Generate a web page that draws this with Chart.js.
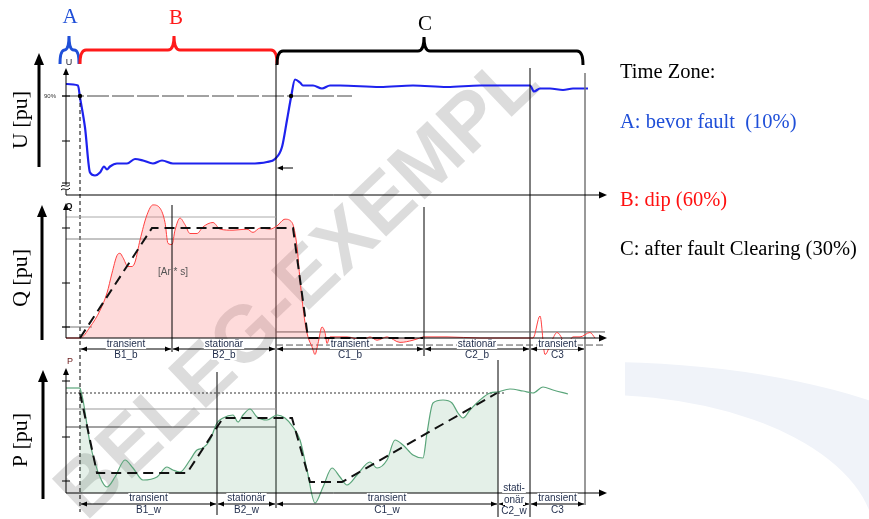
<!DOCTYPE html>
<html>
<head>
<meta charset="utf-8">
<script src="https://cdn.jsdelivr.net/npm/chart.js@4.4.0/dist/chart.umd.min.js"></script>
<style>
html, body { margin: 0; padding: 0; background: #fff; }
#wrap { position: relative; width: 869px; height: 519px; overflow: hidden; }
#wrap canvas, #wrap svg { position: absolute; left: 0; top: 0; }
#wm { position: absolute; left: 296px; top: 285px; transform: translate(-50%, -50%) rotate(-43.6deg);
      font: bold 80px "Liberation Sans", Arial, sans-serif; color: rgba(120,120,120,0.26); white-space: nowrap; }
.zone { position: absolute; left: 620px; font: 20.5px "Liberation Serif", "Times New Roman", serif;
        line-height: 1; white-space: pre; }
</style>
</head>
<body>
<div id="wrap">
  <svg width="869" height="519">
    <defs><clipPath id="cl"><rect x="625" y="0" width="244" height="519"/></clipPath></defs>
    <path clip-path="url(#cl)" fill="#f0f3f9" fill-rule="evenodd"
          d="M180,527 a420,165 0 1,0 840,0 a420,165 0 1,0 -840,0 Z M325,540 a275,145 0 1,0 550,0 a275,145 0 1,0 -550,0 Z"/>
  </svg>
  <div id="wm">BELEG-EXEMPL</div>
  <canvas id="cU" width="869" height="519"></canvas>
  <canvas id="cQ" width="869" height="519"></canvas>
  <canvas id="cP" width="869" height="519"></canvas>
  <div class="zone" style="top:61px;color:#000">Time Zone:</div>
  <div class="zone" style="top:111px;color:#1f4fd8">A: bevor fault  (10%)</div>
  <div class="zone" style="top:189px;color:#ff1010">B: dip (60%)</div>
  <div class="zone" style="top:238px;color:#000">C: after fault Clearing (30%)</div>
</div>
<script>
// Zeitachse in ms nach Fehlereintritt
const T_MIN = -14, T_MAX = 525;
const tFault = 0, tClear = 196, tQb = 92, tQc = 344, tPb = 137, tPc = 418, tC3 = 450, tEnd = 505;

// Spannung U [pu]
const uT = [-14,-2,0,5,10,15,20,24,27,30,37,43,47,55,63,73,82,93,107,137,170,187,195,202,207,211,215,220,223,233,242,250,260,300,333,367,400,450,454,460,470,483,493,508];
const uV = [0.98,0.97,0.89,0.69,0.39,0.37,0.39,0.43,0.41,0.43,0.45,0.45,0.45,0.48,0.47,0.45,0.47,0.45,0.45,0.45,0.45,0.46,0.48,0.56,0.74,0.89,1.01,0.99,0.97,0.97,0.95,0.97,0.97,0.96,0.97,0.96,0.97,0.97,0.93,0.95,0.95,0.94,0.95,0.95];
const uTicks = [0.9, 0.6, 0.32];

// Blindleistung Q [pu]
const qT = [-14,0,10,20,27,32,37,40,43,48,52,55,60,67,73,80,85,88,92,95,100,105,110,117,123,133,140,153,167,173,180,190,197,205,212,217,220,225,228,232,235,238,242,245,247,250,267,283,290,297,307,320,333,343,367,400,433,453,460,465,472,477,487,493,500,510,515];
const qV = [0,0,0.10,0.25,0.41,0.59,0.75,0.77,0.73,0.65,0.65,0.69,0.89,1.12,1.21,1.18,1.05,0.86,0.85,0.98,1.09,1.03,0.95,0.95,1.01,1.05,0.99,0.98,0.99,0.96,1.0,0.99,1.02,1.08,1.05,0.83,0.53,0.14,0.01,-0.08,-0.15,-0.05,0.10,0.05,-0.05,0.01,0.01,-0.02,0.01,-0.02,0.01,-0.04,-0.02,0.01,0.01,0,0,0,0.2,-0.15,-0.02,0.05,-0.06,0.01,0.01,0.05,0];
const qIdealT = [0, 72, 213, 228, 343];
const qIdealV = [0, 1, 1, 0, 0];
const qTicks = [1.0, 0.5, 0.1];

// Wirkleistung P [pu]
const pT = [-14,0,3,10,20,27,35,45,53,63,77,87,93,100,110,117,123,130,137,143,153,158,163,170,177,187,197,205,213,220,227,235,243,252,260,267,277,290,297,307,315,323,333,343,347,353,363,372,378,383,390,400,410,418,430,443,453,463,473,488];
const pV = [1.05,1.05,0.93,0.50,0.16,0.06,0.16,0.33,0.25,0.13,0.16,0.26,0.23,0.21,0.33,0.43,0.45,0.53,0.70,0.75,0.78,0.71,0.78,0.84,0.76,0.73,0.78,0.75,0.66,0.53,0.23,-0.10,0.06,0.25,0.16,0.08,0.18,0.31,0.25,0.33,0.53,0.48,0.38,0.35,0.60,0.90,0.93,0.90,0.80,0.75,0.83,0.93,1.00,1.01,1.04,1.02,1.00,1.06,1.03,0.99];
const pIdealT = [0, 17, 107, 143, 212, 230, 262, 417];
const pIdealV = [1.0, 0.2, 0.2, 0.75, 0.75, 0.11, 0.11, 1.0];
const pTicks = [1.12, 0.56, 0.12];

// Bemaßungen unter den Achsen
const qDims = [[tFault, tQb, ['transient'], 'B1_b'], [tQb, tClear, ['stationär'], 'B2_b'], [tClear, tQc, ['transient'], 'C1_b'], [tQc, tC3, ['stationär'], 'C2_b'], [tC3, tEnd, ['transient'], 'C3']];
const pDims = [[tFault, tPb, ['transient'], 'B1_w'], [tPb, tClear, ['stationär'], 'B2_w'], [tClear, tPc, ['transient'], 'C1_w'], [tPc, tC3, ['stati-', 'onär'], 'C2_w'], [tC3, tEnd, ['transient'], 'C3']];

function pts(ts, vs, a, b) {
    const out = [];
    ts.forEach((t, i) => { if (t >= a && t <= b) out.push({ x: t, y: vs[i] }); });
    return out;
}

// Hilfsfunktionen zum Zeichnen
function seg(ctx, x1, y1, x2, y2, color, width, dash) {
    ctx.save();
    ctx.beginPath();
    ctx.setLineDash(dash || []);
    ctx.moveTo(x1, y1);
    ctx.lineTo(x2, y2);
    ctx.strokeStyle = color;
    ctx.lineWidth = width;
    ctx.stroke();
    ctx.restore();
}

function head(ctx, x, y, dir, color, len, half) {
    len = len || 7; half = half || 3;
    ctx.save();
    ctx.beginPath();
    if (dir === 'up') { ctx.moveTo(x, y); ctx.lineTo(x - half, y + len); ctx.lineTo(x + half, y + len); }
    if (dir === 'right') { ctx.moveTo(x, y); ctx.lineTo(x - len, y - half); ctx.lineTo(x - len, y + half); }
    if (dir === 'left') { ctx.moveTo(x, y); ctx.lineTo(x + len, y - half); ctx.lineTo(x + len, y + half); }
    ctx.closePath();
    ctx.fillStyle = color;
    ctx.fill();
    ctx.restore();
}

function brace(ctx, x1, xm, x2, yTop, yEnd, yTip, color) {
    const r = Math.min(6, (x2 - x1) / 4);
    ctx.save();
    ctx.beginPath();
    ctx.moveTo(x1, yEnd);
    ctx.quadraticCurveTo(x1, yTop, x1 + r, yTop);
    ctx.lineTo(xm - r, yTop);
    ctx.quadraticCurveTo(xm, yTop, xm, yTip);
    ctx.quadraticCurveTo(xm, yTop, xm + r, yTop);
    ctx.lineTo(x2 - r, yTop);
    ctx.quadraticCurveTo(x2, yTop, x2, yEnd);
    ctx.strokeStyle = color;
    ctx.lineWidth = 3;
    ctx.stroke();
    ctx.restore();
}

function label(ctx, s, x, y, font, color, bg) {
    ctx.save();
    ctx.font = font;
    ctx.textAlign = 'center';
    ctx.textBaseline = 'alphabetic';
    if (bg) {
        const w = ctx.measureText(s).width;
        ctx.fillStyle = '#fff';
        ctx.fillRect(x - w / 2 - 1, y - 8, w + 2, 10);
    }
    ctx.fillStyle = color;
    ctx.fillText(s, x, y);
    ctx.restore();
}

function dims(ctx, X, list, yLine, yUp, yLow) {
    const font = '10px "Liberation Sans", Arial, sans-serif';
    list.forEach(([a, b, up, low]) => {
        const x1 = X(a) + 1, x2 = X(b) - 1, xc = (X(a) + X(b)) / 2;
        seg(ctx, x1, yLine, x2, yLine, '#000', 1);
        head(ctx, x1, yLine, 'left', '#000', 6, 2.5);
        head(ctx, x2, yLine, 'right', '#000', 6, 2.5);
        if (up.length === 1) {
            label(ctx, up[0], xc, yUp, font, '#1e2b4a', true);
            label(ctx, low, xc, yLow, font, '#1e2b4a', true);
        } else {
            label(ctx, up[0], xc, yUp - 10, font, '#1e2b4a', true);
            label(ctx, up[1], xc, yUp + 2, font, '#1e2b4a', true);
            label(ctx, low, xc, yLow + 1, font, '#1e2b4a', true);
        }
    });
}

function yAxis(ctx, x, yTop, yBot) {
    seg(ctx, x, yTop + 6, x, yBot, '#000', 1);
    head(ctx, x, yTop, 'up', '#000', 7, 3);
}

function xAxis(ctx, x1, x2, y) {
    seg(ctx, x1, y, x2 - 6, y, '#000', 1);
    head(ctx, x2, y, 'right', '#000', 8, 3.5);
}

function ticks(ctx, x, ys) {
    ys.forEach(y => seg(ctx, x - 4, y, x + 4, y, '#000', 1));
}

// Panel U: Hilfslinien
function uBefore(chart) {
    const { ctx, scales: { x, y } } = chart;
    const X = v => x.getPixelForValue(v), Y = v => y.getPixelForValue(v);
    seg(ctx, 62, Y(0.9), X(272), Y(0.9), '#444', 1, [22, 3]);
}

// Panel U: Achsen, Klammern, Zeitlinien, Beschriftungen
function uAfter(chart) {
    const { ctx, chartArea: a, scales: { x, y } } = chart;
    const X = v => x.getPixelForValue(v), Y = v => y.getPixelForValue(v);

    // Zeitzonen-Klammern
    brace(ctx, X(-20), X(-11), X(-1), 50, 64, 36, '#1f4fd8');
    brace(ctx, X(0), X(94), X(197), 50, 64, 36, '#ff1a1a');
    brace(ctx, X(197), X(344), X(503), 51, 65, 37, '#000');
    label(ctx, 'A', X(-10), 23, '21px "Liberation Serif", serif', '#1f4fd8');
    label(ctx, 'B', X(96), 24, '21px "Liberation Serif", serif', '#ff1a1a');
    label(ctx, 'C', X(345), 30, '21px "Liberation Serif", serif', '#000');

    // senkrechte Zonengrenzen über alle drei Diagramme
    seg(ctx, X(tFault), Y(0.9), X(tFault), 512, '#000', 1, [4, 3]);
    seg(ctx, X(tClear), 64, X(tClear), 508, '#000', 1);
    seg(ctx, X(tC3), 68, X(tC3), 517, '#000', 1);
    seg(ctx, X(tEnd), 73, X(tEnd), 505, '#777', 1.5);

    // Achsen
    yAxis(ctx, a.left, a.top + 2, 185);
    seg(ctx, a.left, 190, a.left, a.bottom, '#000', 1);
    ctx.save();
    ctx.strokeStyle = '#000';
    ctx.lineWidth = 1;
    [185.5, 189].forEach(yy => {
        ctx.beginPath();
        ctx.moveTo(a.left - 5, yy + 1);
        ctx.bezierCurveTo(a.left - 2, yy - 2, a.left + 1, yy + 3, a.left + 4, yy - 1);
        ctx.stroke();
    });
    ctx.restore();
    xAxis(ctx, a.left, a.right + 2, a.bottom);
    ticks(ctx, a.left, uTicks.map(Y));
    label(ctx, 'U', a.left + 3, 65, '9px "Liberation Sans", Arial, sans-serif', '#223');
    label(ctx, '90%', 50, Y(0.9) + 2, '6px "Liberation Sans", Arial, sans-serif', '#333');

    // Schnittpunkte mit 90 %
    ctx.save();
    ctx.fillStyle = '#000';
    [tFault, 211].forEach(t => { ctx.beginPath(); ctx.arc(X(t), Y(0.9), 2.2, 0, Math.PI * 2); ctx.fill(); });
    ctx.restore();

    // kleiner Pfeil an der Fehlerklärung
    seg(ctx, X(213), Y(0.42), X(tClear) + 6, Y(0.42), '#000', 1);
    head(ctx, X(tClear) + 1, Y(0.42), 'left', '#000', 6, 2.5);

    // linke Achsentitel mit Pfeilen
    ctx.save();
    ctx.font = '22px "Liberation Serif", "Times New Roman", serif';
    ctx.fillStyle = '#000';
    ctx.textAlign = 'center';
    ctx.textBaseline = 'middle';
    [['U [pu]', 120], ['Q [pu]', 278], ['P [pu]', 440]].forEach(([s, yc]) => {
        ctx.save();
        ctx.translate(21, yc);
        ctx.rotate(-Math.PI / 2);
        ctx.fillText(s, 0, 0);
        ctx.restore();
    });
    ctx.restore();
    [[39, 53, 167], [42, 205, 340], [43, 370, 499]].forEach(([ax, top, bot]) => {
        seg(ctx, ax, top + 8, ax, bot, '#000', 3);
        head(ctx, ax, top, 'up', '#000', 12, 5);
    });
}

// Panel Q
function qBefore(chart) {
    const { ctx, chartArea: a, scales: { x, y } } = chart;
    const X = v => x.getPixelForValue(v), Y = v => y.getPixelForValue(v);
    seg(ctx, a.left, Y(1.1), X(tClear), Y(1.1), '#aaa', 1);
    seg(ctx, a.left, Y(0.9), X(tClear), Y(0.9), '#888', 1);
    seg(ctx, a.left - 4, Y(0.1), X(12), Y(0.1), '#777', 1);
    seg(ctx, X(tClear), Y(0.055), a.right, Y(0.055), '#555', 1);
    seg(ctx, X(tClear), Y(-0.064), a.right, Y(-0.064), '#555', 1, [7, 3]);
}

function qAfter(chart) {
    const { ctx, chartArea: a, scales: { x, y } } = chart;
    const X = v => x.getPixelForValue(v), Y = v => y.getPixelForValue(v);
    seg(ctx, X(tQb), 205, X(tQb), 352, '#000', 1);
    seg(ctx, X(tQc), 207, X(tQc), 356, '#000', 1);
    yAxis(ctx, a.left, 203, Y(0));
    xAxis(ctx, a.left, a.right + 2, Y(0));
    ticks(ctx, a.left, qTicks.map(Y));
    label(ctx, 'Q', a.left + 3, 209, 'bold 9px "Liberation Sans", Arial, sans-serif', '#111');
    label(ctx, '[Ar * s]', X(tQb) + 1, 275, '10px "Liberation Sans", Arial, sans-serif', '#555');
    dims(ctx, X, qDims, 349, 347, 358);
}

// Panel P
function pBefore(chart) {
    const { ctx, chartArea: a, scales: { x, y } } = chart;
    const X = v => x.getPixelForValue(v), Y = v => y.getPixelForValue(v);
    seg(ctx, a.left, Y(1.0), X(426), Y(1.0), '#333', 1, [2, 2]);
    seg(ctx, a.left, Y(0.84), X(tClear), Y(0.84), '#999', 1);
    seg(ctx, a.left, Y(0.66), X(tClear), Y(0.66), '#444', 1);
}

function pAfter(chart) {
    const { ctx, chartArea: a, scales: { x, y } } = chart;
    const X = v => x.getPixelForValue(v), Y = v => y.getPixelForValue(v);
    seg(ctx, X(tPb), 372, X(tPb), 515, '#000', 1);
    seg(ctx, X(tPc), 360, X(tPc), 517, '#000', 1);
    yAxis(ctx, a.left, 368, Y(0));
    xAxis(ctx, a.left, a.right + 2, Y(0));
    ticks(ctx, a.left, pTicks.map(Y));
    label(ctx, 'P', a.left + 4, 364, '9px "Liberation Sans", Arial, sans-serif', '#6a1a1a');
    dims(ctx, X, pDims, 504, 501, 513);
}

function makeChart(id, top, bottom, yMin, yMax, datasets, before, after) {
    return new Chart(document.getElementById(id), {
        type: 'line',
        data: { datasets: datasets },
        options: {
            responsive: false,
            animation: false,
            devicePixelRatio: 1,
            layout: { padding: { left: 66, right: 869 - 605, top: top, bottom: 519 - bottom } },
            scales: {
                x: { type: 'linear', min: T_MIN, max: T_MAX, display: false },
                y: { min: yMin, max: yMax, display: false }
            },
            plugins: { legend: { display: false }, tooltip: { enabled: false } },
            elements: { point: { radius: 0 }, line: { cubicInterpolationMode: 'monotone' } }
        },
        plugins: [{ id: 'deko_' + id, beforeDatasetsDraw: before, afterDatasetsDraw: after }]
    });
}

const idealStyle = { borderColor: '#111', borderWidth: 2, borderDash: [10, 6], tension: 0, cubicInterpolationMode: 'default', fill: false };

makeChart('cU', 66, 195, 0.24, 1.1, [
    { data: pts(uT, uV, T_MIN, T_MAX), borderColor: '#1e22ee', borderWidth: 2.2, fill: false }
], uBefore, uAfter);

makeChart('cQ', 200.5, 360, -0.2, 1.25, [
    Object.assign({ data: pts(qIdealT, qIdealV, T_MIN, T_MAX) }, idealStyle),
    { data: pts(qT, qV, T_MIN, 343), borderColor: '#ff4040', borderWidth: 1, fill: { value: 0 }, backgroundColor: 'rgba(250,110,110,0.25)' },
    { data: pts(qT, qV, 343, T_MAX), borderColor: '#ff4040', borderWidth: 1, fill: false }
], qBefore, qAfter);

makeChart('cP', 366, 515, -0.22, 1.27, [
    Object.assign({ data: pts(pIdealT, pIdealV, T_MIN, T_MAX) }, idealStyle),
    { data: pts(pT, pV, T_MIN, 0), borderColor: '#5aa57a', borderWidth: 1.2, fill: false },
    { data: pts(pT, pV, 0, tPc), borderColor: '#5aa57a', borderWidth: 1.2, fill: { value: 0 }, backgroundColor: 'rgba(90,160,115,0.16)' },
    { data: pts(pT, pV, tPc, T_MAX), borderColor: '#5aa57a', borderWidth: 1.2, fill: false }
], pBefore, pAfter);
</script>
</body>
</html>
